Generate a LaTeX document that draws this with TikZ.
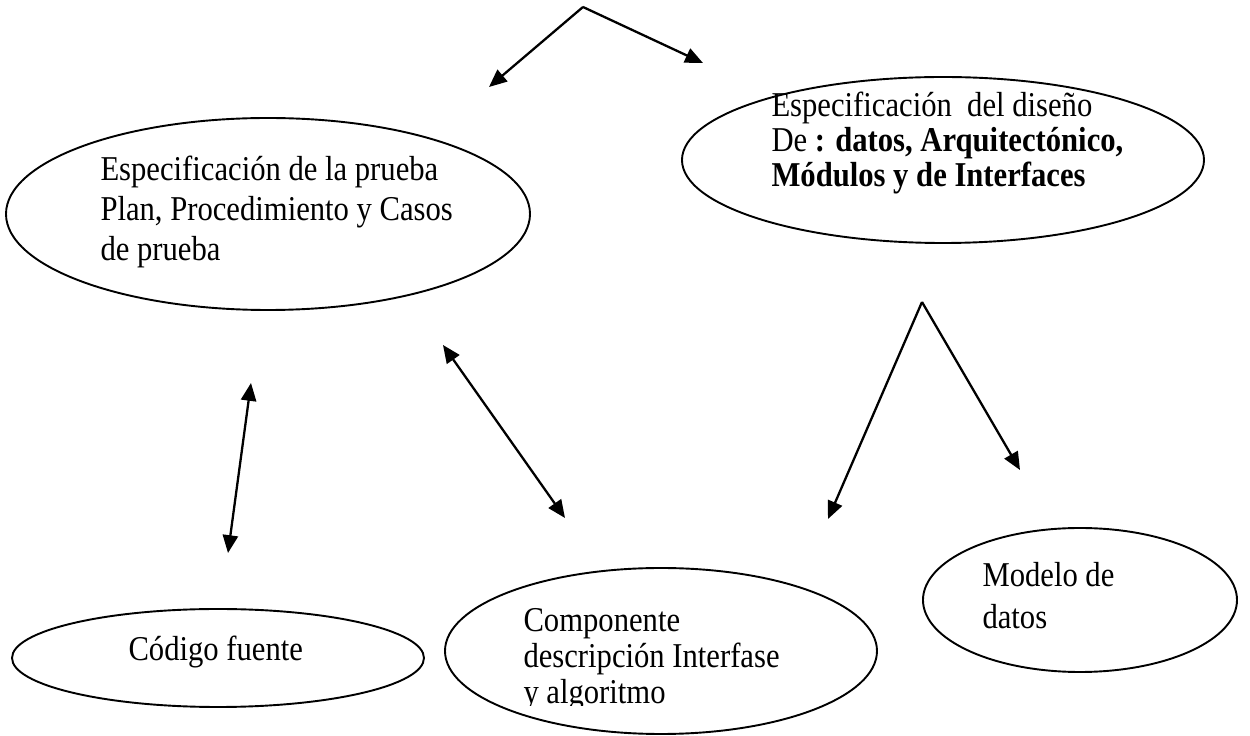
\documentclass[tikz,border=0pt]{standalone}
\usepackage{fontspec}
\setmainfont[FakeStretch=0.88]{Liberation Serif}
\usetikzlibrary{arrows.meta, shapes.geometric}

\newcommand{\unitpx}{0.3934pt}

\begin{document}
\begin{tikzpicture}[x=0.3934pt, y=-0.3934pt,
    oval/.style={ellipse, draw, line width=0.75pt, inner sep=0pt},
    txt/.style={anchor=west, align=left, inner sep=0pt},
    arr/.style={line width=0.9pt, -{Triangle[length=7pt, width=6pt]}},
    dbl/.style={line width=0.9pt, {Triangle[length=7pt, width=6pt]}-{Triangle[length=7pt, width=6pt]}}]
    \useasboundingbox (0,0) rectangle (1250,736);

    % ellipses
    \node[oval, minimum width=524*\unitpx, minimum height=192*\unitpx] (prueba) at (268, 214) {};
    \node[oval, minimum width=522*\unitpx, minimum height=166*\unitpx] (diseno) at (943, 160) {};
    \node[oval, minimum width=412*\unitpx, minimum height=98*\unitpx] (codigo) at (218, 658) {};
    \node[oval, minimum width=432*\unitpx, minimum height=166*\unitpx] (componente) at (661, 651) {};
    \node[oval, minimum width=314*\unitpx, minimum height=144*\unitpx] (modelo) at (1080, 600) {};

    % texts
    \node[txt, font=\fontsize{13.7}{15.7}\selectfont] (pruebatxt) at (100, 212) {Especificación de la prueba\\
        Plan, Procedimiento y Casos\\
        de prueba};
    \node[txt, font=\fontsize{13.7}{13.8}\selectfont] (disenotxt) at (771, 143) {Especificación \ del diseño\\
        De \textbf{: datos, Arquitectónico,}\\
        \textbf{Módulos y de Interfaces}};
    \node[txt, font=\fontsize{13.7}{14}\selectfont] (codigotxt) at (128, 652) {Código fuente};
    \begin{scope}
        \clip (430, 560) rectangle (900, 706);
        \node[txt, font=\fontsize{13.7}{14.2}\selectfont] (componentetxt) at (523, 660) {Componente\\
            descripción Interfase\\
            y algoritmo};
    \end{scope}
    \node[txt, font=\fontsize{13.7}{16.5}\selectfont] (modelotxt) at (982, 596) {Modelo de\\
        datos};

    % arrow ends
    \coordinate (top) at (583, 7);
    \coordinate (topl) at (489, 87);
    \coordinate (topr) at (703, 63);
    \coordinate (codup) at (251, 383);
    \coordinate (coddown) at (228, 553);
    \coordinate (compup) at (443, 345);
    \coordinate (compdown) at (565, 518);
    \coordinate (fork) at (922, 302);
    \coordinate (forkl) at (828, 519);
    \coordinate (forkr) at (1020, 470);

    \draw[arr] (top) -- (topl);
    \draw[arr] (top) -- (topr);
    \draw[dbl] (codup) -- (coddown);
    \draw[dbl] (compup) -- (compdown);
    \draw[arr] (fork) -- (forkl);
    \draw[arr] (fork) -- (forkr);
\end{tikzpicture}
\end{document}
